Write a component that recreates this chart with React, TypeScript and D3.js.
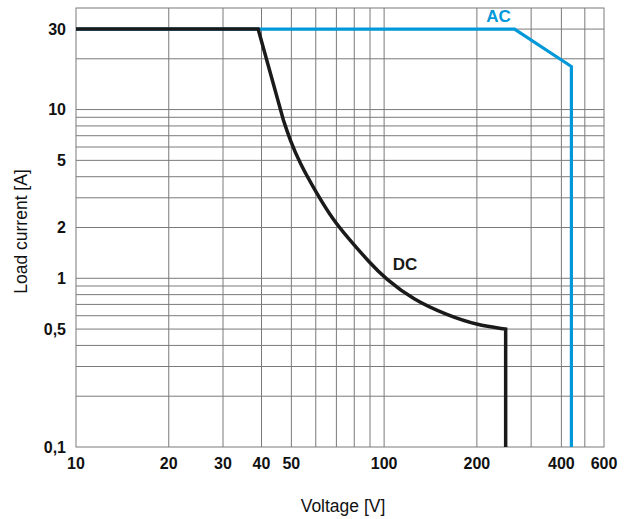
import React from 'react';
import * as d3 from 'd3';

// AC limit curve (voltage V, current A)
const acVolts = [10, 265, 440, 440];
const acAmps = [30, 30, 18, 0.1];

// DC limit curve
const dcVolts = [10, 39, 47.1, 49.5, 53.3, 60.4, 68.4, 76.5, 90, 100.7, 124.4, 159.7, 199.8, 248, 248];
const dcAmps = [30, 30, 8.68, 6.6, 4.8, 3.19, 2.21, 1.73, 1.23, 1.0, 0.744, 0.606, 0.528, 0.5, 0.1];

const xGrid = [20, 30, 40, 50, 60, 70, 80, 90, 100, 200, 300, 400, 500];
const yGrid = [0.2, 0.3, 0.4, 0.5, 0.6, 0.7, 0.8, 0.9, 1, 2, 3, 4, 5, 6, 7, 8, 9, 10, 20, 30];

const xTicks = [10, 20, 30, 40, 50, 100, 200, 400, 600];
const yTicks = [30, 10, 5, 2, 1, 0.5, 0.1];
const yTickLabels = ['30', '10', '5', '2', '1', '0,5', '0,1'];

const width = 633;
const height = 519;
const margin = { top: 8, right: 29, bottom: 72, left: 76 };
const font = '"Liberation Sans", Arial, sans-serif';

export default function App() {
    const w = width - margin.left - margin.right;
    const h = height - margin.top - margin.bottom;

    // the grid of the original is squeezed above 300 V
    const x = d3.scaleLog().domain([10, 300, 600]).range([0, w * 0.862, w]);
    const y = d3.scaleLog().domain([0.1, 40]).range([h, 0]);

    const ac = acVolts.map((v, i) => [v, acAmps[i]] as [number, number]);
    const dc = dcVolts.map((v, i) => [v, dcAmps[i]] as [number, number]);

    const straight = d3.line<[number, number]>().x(d => x(d[0])).y(d => y(d[1]));
    const smooth = d3.line<[number, number]>()
        .curve(d3.curveBasis)
        .x(d => x(d[0]))
        .y(d => y(d[1]));

    // flat part and first steep drop are straight, then the arc curve, then the drop to 0,1
    const n = dc.length;
    const dcPath = (straight(dc.slice(0, 3)) || '') +
        (smooth(dc.slice(2, n - 1)) || '').replace(/^M/, 'L') +
        (straight(dc.slice(n - 2)) || '').replace(/^M/, 'L');

    const gridColor = '#7a7a7a';

    return (
        <svg width={width} height={height} style={{ position: 'absolute', left: 0, top: 0, background: '#fff' }}>
            <g transform={`translate(${margin.left},${margin.top})`}>
                {xGrid.map(v => (
                    <line key={'x' + v} x1={x(v)} x2={x(v)} y1={0} y2={h} stroke={gridColor} strokeWidth={1} />
                ))}
                {yGrid.map(v => (
                    <line key={'y' + v} x1={0} x2={w} y1={y(v)} y2={y(v)} stroke={gridColor} strokeWidth={1} />
                ))}
                <rect x={0} y={0} width={w} height={h} fill="none" stroke={gridColor} strokeWidth={1} />

                <path d={straight(ac) || ''} fill="none" stroke="#0098d8" strokeWidth={3.2} strokeLinejoin="miter" />
                <path d={dcPath} fill="none" stroke="#1a1a1a" strokeWidth={3.5} strokeLinejoin="miter" />

                <text x={x(acVolts[1]) - 16} y={y(acAmps[1]) - 7} textAnchor="middle"
                    fontFamily={font} fontWeight="bold" fontSize={17} fill="#0098d8">AC</text>
                <text x={x(100) + 21} y={y(1) - 8} textAnchor="middle"
                    fontFamily={font} fontWeight="bold" fontSize={17} fill="#1a1a1a">DC</text>

                {yTicks.map((v, i) => (
                    <text key={'yt' + v} x={-10} y={y(v)} dy="0.36em" textAnchor="end"
                        fontFamily={font} fontWeight="bold" fontSize={16} fill="#111">{yTickLabels[i]}</text>
                ))}
                {xTicks.map(v => (
                    <text key={'xt' + v} x={x(v)} y={h + 22} textAnchor="middle"
                        fontFamily={font} fontWeight="bold" fontSize={16} fill="#111">{v}</text>
                ))}

                <text x={w / 2 + 3} y={h + 65} textAnchor="middle" fontFamily={font} fontSize={17.5} fill="#111">
                    Voltage [V]
                </text>
                <text transform={`translate(${-49},${h / 2 + 4}) rotate(-90)`} textAnchor="middle"
                    fontFamily={font} fontSize={17.5} fill="#111">
                    Load current [A]
                </text>
            </g>
        </svg>
    );
}
